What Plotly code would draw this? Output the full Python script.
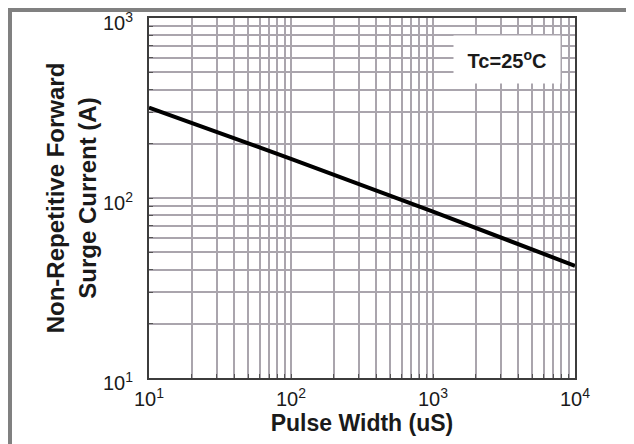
import plotly.graph_objects as go

# ---- data ----
pulse_width_us = [10, 100, 1000, 10000]
surge_current_a = [318, 165, 84, 42]

x_decades = [10, 100, 1000, 10000]
x_decade_labels = ["10<sup>1</sup>", "10<sup>2</sup>", "10<sup>3</sup>", "10<sup>4</sup>"]
y_decades = [10, 100, 1000]
y_decade_labels = ["10<sup>1</sup>", "10<sup>2</sup>", "10<sup>3</sup>"]

annotation_text = "Tc=25<sup>o</sup>C"
x_title = "Pulse Width (uS)"
y_title = "Non-Repetitive Forward<br>Surge Current (A)"

# ---- grid tick positions (1..9 per decade) ----
def grid_ticks(decades, labels):
    vals, texts = [], []
    for i, d in enumerate(decades):
        vals.append(d)
        texts.append(labels[i])
        if i < len(decades) - 1:
            for m in range(2, 10):
                vals.append(d * m)
                texts.append("")
    return vals, texts

xv, xt = grid_ticks(x_decades, x_decade_labels)
yv, yt = grid_ticks(y_decades, y_decade_labels)

# page body keeps its default 8px margin, so the figure is offset by 8px
OFF = 8
W, H = 634 - OFF, 444 - OFF
L, R, T, B = 149 - OFF, 575 - OFF, 18 - OFF, 378 - OFF

def px(x):  # screen px -> paper
    return (x - OFF - L) / (R - L)

def py(y):
    return (B - (y - OFF)) / (B - T)

FONT = "Liberation Sans, Arial, sans-serif"
GRID = "#aaa5ad"

fig = go.Figure()
fig.add_trace(go.Scatter(
    x=pulse_width_us, y=surge_current_a, mode="lines",
    line=dict(color="black", width=4), showlegend=False, hoverinfo="skip"))

axis_common = dict(
    type="log", showgrid=True, gridcolor=GRID, gridwidth=1.5, automargin=False,
    showline=True, linecolor="#3c3c3c", linewidth=2, mirror=True,
    ticks="inside", ticklen=4, tickcolor="#555555", tickwidth=1,
    zeroline=False, tickfont=dict(family=FONT, size=20, color="#1a1a1a"),
)

fig.update_layout(
    width=W, height=H,
    margin=dict(l=L, r=W - R, t=T, b=H - B, pad=0),
    paper_bgcolor="white", plot_bgcolor="white",
    font=dict(family=FONT),
    xaxis=dict(axis_common, range=[1, 4], tickmode="array", tickvals=xv, ticktext=xt,
               ticklabelstandoff=2,
               title=dict(text="<b>" + x_title + "</b>", font=dict(family=FONT, size=23, color="#1a1a1a"),
                          standoff=0)),
    yaxis=dict(axis_common, range=[1, 3], tickmode="array", tickvals=yv, ticktext=yt,
               ticklabelstandoff=10, ticklabelshift=5,
               title=dict(text="<b>" + y_title + "</b>", font=dict(family=FONT, size=24, color="#1a1a1a"),
                          standoff=0)),
)

fig.add_annotation(
    xref="paper", yref="paper", x=px(507), y=py(59.5),
    text="<b>" + annotation_text + "</b>", showarrow=False,
    font=dict(family=FONT, size=20, color="#1a1a1a"),
    bgcolor="white", width=104, height=45, xanchor="center", yanchor="middle",
)

frame = "#808080"
# frame bars (left, right) as filled rectangles, screen px
for (x0, x1, y0, y1) in [(8, 12, 8, 470), (632, 660, 8, 470), (8, 660, 8, 12)]:
    fig.add_shape(type="rect", xref="paper", yref="paper",
                  x0=px(x0), x1=px(x1), y0=py(y1), y1=py(y0),
                  line=dict(width=0), fillcolor=frame, layer="above")

# top bar also drawn as a filled annotation box (in case shapes there are clipped)
fig.add_annotation(
    xref="paper", yref="paper", x=px(8), y=py(8), xanchor="left", yanchor="top",
    text=" ", showarrow=False, font=dict(size=1, color=frame),
    bgcolor=frame, borderpad=0, borderwidth=0, width=626, height=4,
)

fig.write_html("out.html", config={"displayModeBar": False})
